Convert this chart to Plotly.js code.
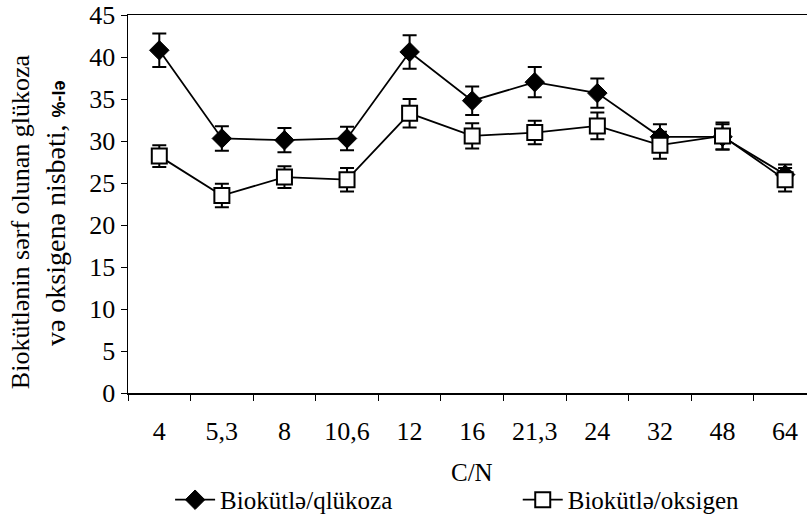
<!DOCTYPE html>
<html>
<head>
<meta charset="utf-8">
<script src="https://cdn.plot.ly/plotly-3.0.1.min.js"></script>
<style>html,body{margin:0;padding:0;background:#fff}#chart{width:807px;height:518px}</style>
</head>
<body>
<div id="chart"></div>
<script>
const categories = ["4", "5,3", "8", "10,6", "12", "16", "21,3", "24", "32", "48", "64"];
const glucose = [40.8, 30.3, 30.1, 30.3, 40.6, 34.8, 37.0, 35.7, 30.5, 30.5, 26.0];
const glucoseErr = [2.0, 1.45, 1.45, 1.4, 2.0, 1.7, 1.8, 1.75, 1.5, 1.5, 1.2];
const oxygen = [28.2, 23.5, 25.7, 25.4, 33.3, 30.6, 31.0, 31.8, 29.5, 30.6, 25.4];
const oxygenErr = [1.3, 1.4, 1.3, 1.4, 1.7, 1.5, 1.4, 1.6, 1.6, 1.6, 1.4];
const yTicks = [0, 5, 10, 15, 20, 25, 30, 35, 40, 45];
const yTitle1 = "Biokütlənin sərf olunan glükoza";
const yTitle2 = "və oksigenə nisbəti, <span style='font-family:Liberation Sans;font-size:18px;font-weight:bold'>%-lə</span>";
const xTitle = "C/N";

const font = "Liberation Serif";

const traces = [
  {
    x: categories, y: glucose, type: "scatter", mode: "lines+markers",
    name: "Biokütlə/qlükoza", legend: "legend",
    line: {color: "#000", width: 1.8},
    marker: {symbol: "diamond", size: 15, color: "#000", line: {color: "#000", width: 1}},
    error_y: {type: "data", array: glucoseErr, visible: true, color: "#000", thickness: 2, width: 7}
  },
  {
    x: categories, y: oxygen, type: "scatter", mode: "lines+markers",
    name: "Biokütlə/oksigen", legend: "legend2",
    line: {color: "#000", width: 1.8},
    marker: {symbol: "square", size: 15, color: "#fff", line: {color: "#000", width: 2}},
    error_y: {type: "data", array: oxygenErr, visible: true, color: "#000", thickness: 2, width: 7}
  }
];

const legendCommon = {
  orientation: "h", xanchor: "left", yanchor: "middle",
  font: {family: font, size: 25, color: "#000"},
  bgcolor: "rgba(0,0,0,0)", itemwidth: 40
};

const layout = {
  width: 807, height: 518,
  margin: {l: 128, r: 0, t: 15, b: 125, autoexpand: false},
  paper_bgcolor: "#fff", plot_bgcolor: "#fff",
  font: {family: font, size: 25, color: "#000"},
  showlegend: true,
  legend: Object.assign({}, legendCommon, {x: 0.062, y: -0.283}),
  legend2: Object.assign({}, legendCommon, {x: 0.574, y: -0.283}),
  xaxis: {
    type: "category",
    range: [-0.5, 10.35],
    showline: true, linecolor: "#000", linewidth: 1.5, mirror: true,
    ticks: "outside", ticklen: 6, tickwidth: 1, tickcolor: "#000",
    tickson: "boundaries", ticklabelstandoff: 14,
    showgrid: false, zeroline: false,
    tickfont: {family: font, size: 26, color: "#000"},
    automargin: false
  },
  yaxis: {
    range: [0, 45],
    tickvals: yTicks,
    showline: true, linecolor: "#000", linewidth: 1.5,
    ticks: "outside", ticklen: 6, tickwidth: 1, tickcolor: "#000",
    showgrid: false, zeroline: false,
    tickfont: {family: font, size: 26, color: "#000"},
    automargin: false
  },
  annotations: [
    {text: yTitle1, xref: "paper", yref: "paper", x: -0.159, y: 0.452, xanchor: "center", yanchor: "middle",
     textangle: -90, showarrow: false, font: {family: font, size: 26, color: "#000"}},
    {text: yTitle2, xref: "paper", yref: "paper", x: -0.1075, y: 0.476, xanchor: "center", yanchor: "middle",
     textangle: -90, showarrow: false, font: {family: font, size: 28, color: "#000"}},
    {text: xTitle, xref: "paper", yref: "paper", x: 0.507, y: -0.21, xanchor: "center", yanchor: "middle",
     showarrow: false, font: {family: font, size: 25, color: "#000"}}
  ]
};

Plotly.newPlot("chart", traces, layout, {displayModeBar: false, staticPlot: true});
</script>
</body>
</html>
